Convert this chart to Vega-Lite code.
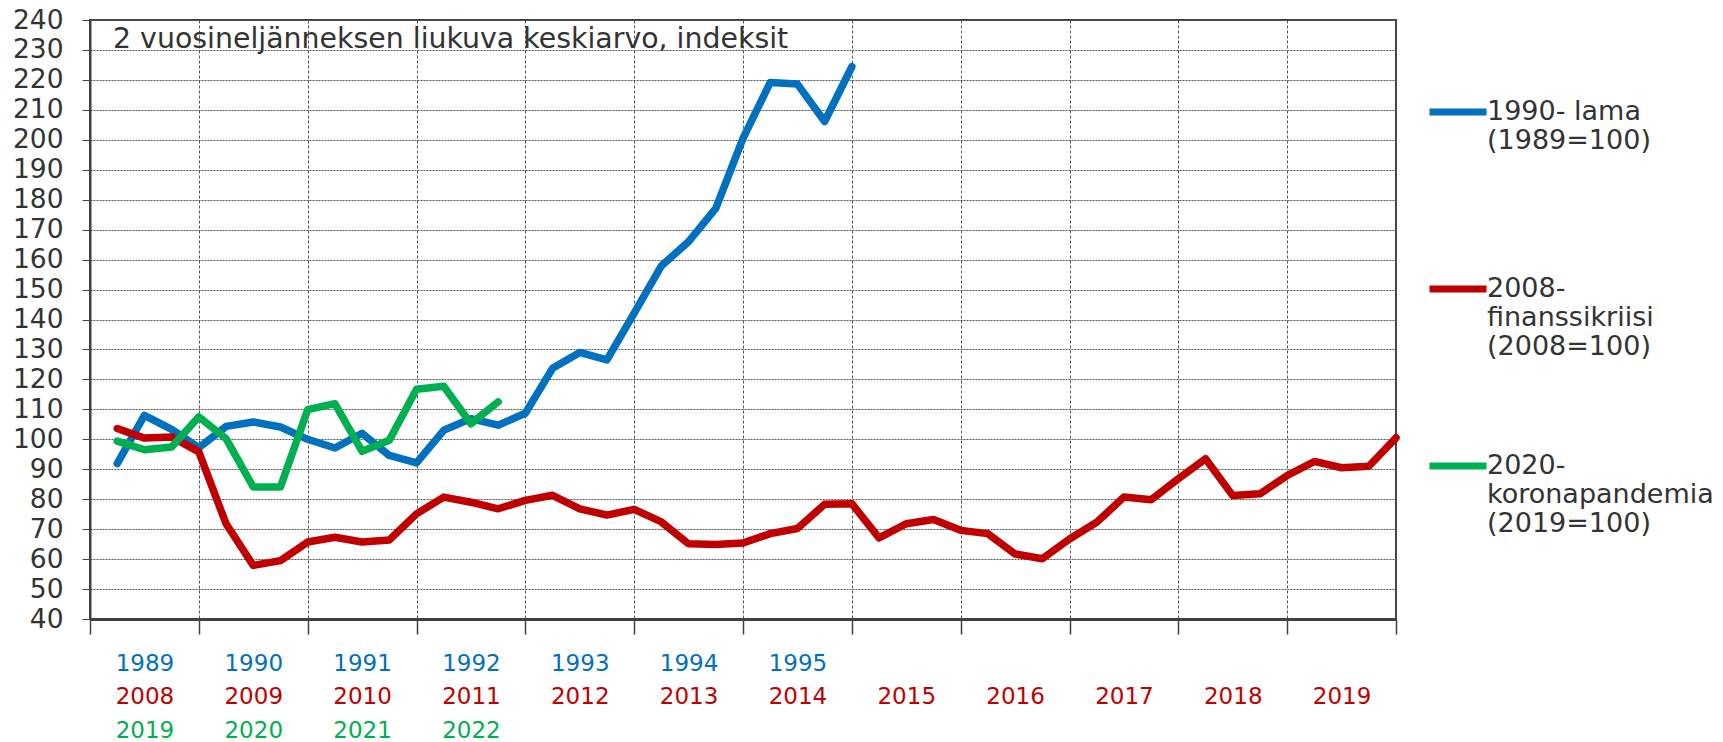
{
  "$schema": "https://vega.github.io/schema/vega-lite/v6.json",
  "width": 1306,
  "height": 599,
  "autosize": {"type": "none"},
  "padding": {"left": 90, "top": 20, "right": 327, "bottom": 123},
  "background": "white",
  "title": {"text": "2 vuosineljänneksen liukuva keskiarvo, indeksit", "anchor": "start", "frame": "group", "orient": "top", "offset": -69, "dx": 23, "baseline": "alphabetic", "font": "DejaVu Sans", "fontSize": 28.4, "fontWeight": "normal", "color": "#333333"},
  "config": {
    "view": {"stroke": "#404040", "strokeWidth": 2},
    "font": "DejaVu Sans",
    "axis": {"labelFont": "DejaVu Sans", "titleFont": "DejaVu Sans"}
  },
  "data": {"values": [
    {"s": "1990- lama|(1989=100)", "t": 1, "v": 91.9},
    {"s": "1990- lama|(1989=100)", "t": 2, "v": 108.0},
    {"s": "1990- lama|(1989=100)", "t": 3, "v": 103.3},
    {"s": "1990- lama|(1989=100)", "t": 4, "v": 97.2},
    {"s": "1990- lama|(1989=100)", "t": 5, "v": 104.3},
    {"s": "1990- lama|(1989=100)", "t": 6, "v": 105.8},
    {"s": "1990- lama|(1989=100)", "t": 7, "v": 104.1},
    {"s": "1990- lama|(1989=100)", "t": 8, "v": 100.0},
    {"s": "1990- lama|(1989=100)", "t": 9, "v": 97.1},
    {"s": "1990- lama|(1989=100)", "t": 10, "v": 102.0},
    {"s": "1990- lama|(1989=100)", "t": 11, "v": 94.6},
    {"s": "1990- lama|(1989=100)", "t": 12, "v": 92.1},
    {"s": "1990- lama|(1989=100)", "t": 13, "v": 103.0},
    {"s": "1990- lama|(1989=100)", "t": 14, "v": 106.9},
    {"s": "1990- lama|(1989=100)", "t": 15, "v": 104.7},
    {"s": "1990- lama|(1989=100)", "t": 16, "v": 108.7},
    {"s": "1990- lama|(1989=100)", "t": 17, "v": 123.7},
    {"s": "1990- lama|(1989=100)", "t": 18, "v": 129.0},
    {"s": "1990- lama|(1989=100)", "t": 19, "v": 126.5},
    {"s": "1990- lama|(1989=100)", "t": 20, "v": 142.1},
    {"s": "1990- lama|(1989=100)", "t": 21, "v": 157.9},
    {"s": "1990- lama|(1989=100)", "t": 22, "v": 166.0},
    {"s": "1990- lama|(1989=100)", "t": 23, "v": 177.1},
    {"s": "1990- lama|(1989=100)", "t": 24, "v": 200.5},
    {"s": "1990- lama|(1989=100)", "t": 25, "v": 219.1},
    {"s": "1990- lama|(1989=100)", "t": 26, "v": 218.6},
    {"s": "1990- lama|(1989=100)", "t": 27, "v": 206.1},
    {"s": "1990- lama|(1989=100)", "t": 28, "v": 224.4},
    {"s": "2008-|finanssikriisi|(2008=100)", "t": 1, "v": 103.6},
    {"s": "2008-|finanssikriisi|(2008=100)", "t": 2, "v": 100.4},
    {"s": "2008-|finanssikriisi|(2008=100)", "t": 3, "v": 100.8},
    {"s": "2008-|finanssikriisi|(2008=100)", "t": 4, "v": 95.8},
    {"s": "2008-|finanssikriisi|(2008=100)", "t": 5, "v": 71.8},
    {"s": "2008-|finanssikriisi|(2008=100)", "t": 6, "v": 57.9},
    {"s": "2008-|finanssikriisi|(2008=100)", "t": 7, "v": 59.5},
    {"s": "2008-|finanssikriisi|(2008=100)", "t": 8, "v": 65.7},
    {"s": "2008-|finanssikriisi|(2008=100)", "t": 9, "v": 67.3},
    {"s": "2008-|finanssikriisi|(2008=100)", "t": 10, "v": 65.7},
    {"s": "2008-|finanssikriisi|(2008=100)", "t": 11, "v": 66.4},
    {"s": "2008-|finanssikriisi|(2008=100)", "t": 12, "v": 75.1},
    {"s": "2008-|finanssikriisi|(2008=100)", "t": 13, "v": 80.7},
    {"s": "2008-|finanssikriisi|(2008=100)", "t": 14, "v": 79.0},
    {"s": "2008-|finanssikriisi|(2008=100)", "t": 15, "v": 76.8},
    {"s": "2008-|finanssikriisi|(2008=100)", "t": 16, "v": 79.6},
    {"s": "2008-|finanssikriisi|(2008=100)", "t": 17, "v": 81.3},
    {"s": "2008-|finanssikriisi|(2008=100)", "t": 18, "v": 76.8},
    {"s": "2008-|finanssikriisi|(2008=100)", "t": 19, "v": 74.7},
    {"s": "2008-|finanssikriisi|(2008=100)", "t": 20, "v": 76.6},
    {"s": "2008-|finanssikriisi|(2008=100)", "t": 21, "v": 72.4},
    {"s": "2008-|finanssikriisi|(2008=100)", "t": 22, "v": 65.1},
    {"s": "2008-|finanssikriisi|(2008=100)", "t": 23, "v": 64.9},
    {"s": "2008-|finanssikriisi|(2008=100)", "t": 24, "v": 65.4},
    {"s": "2008-|finanssikriisi|(2008=100)", "t": 25, "v": 68.5},
    {"s": "2008-|finanssikriisi|(2008=100)", "t": 26, "v": 70.2},
    {"s": "2008-|finanssikriisi|(2008=100)", "t": 27, "v": 78.3},
    {"s": "2008-|finanssikriisi|(2008=100)", "t": 28, "v": 78.5},
    {"s": "2008-|finanssikriisi|(2008=100)", "t": 29, "v": 67.1},
    {"s": "2008-|finanssikriisi|(2008=100)", "t": 30, "v": 71.8},
    {"s": "2008-|finanssikriisi|(2008=100)", "t": 31, "v": 73.2},
    {"s": "2008-|finanssikriisi|(2008=100)", "t": 32, "v": 69.6},
    {"s": "2008-|finanssikriisi|(2008=100)", "t": 33, "v": 68.5},
    {"s": "2008-|finanssikriisi|(2008=100)", "t": 34, "v": 61.7},
    {"s": "2008-|finanssikriisi|(2008=100)", "t": 35, "v": 60.1},
    {"s": "2008-|finanssikriisi|(2008=100)", "t": 36, "v": 66.7},
    {"s": "2008-|finanssikriisi|(2008=100)", "t": 37, "v": 72.3},
    {"s": "2008-|finanssikriisi|(2008=100)", "t": 38, "v": 80.7},
    {"s": "2008-|finanssikriisi|(2008=100)", "t": 39, "v": 79.8},
    {"s": "2008-|finanssikriisi|(2008=100)", "t": 40, "v": 86.8},
    {"s": "2008-|finanssikriisi|(2008=100)", "t": 41, "v": 93.5},
    {"s": "2008-|finanssikriisi|(2008=100)", "t": 42, "v": 81.2},
    {"s": "2008-|finanssikriisi|(2008=100)", "t": 43, "v": 81.8},
    {"s": "2008-|finanssikriisi|(2008=100)", "t": 44, "v": 87.9},
    {"s": "2008-|finanssikriisi|(2008=100)", "t": 45, "v": 92.6},
    {"s": "2008-|finanssikriisi|(2008=100)", "t": 46, "v": 90.5},
    {"s": "2008-|finanssikriisi|(2008=100)", "t": 47, "v": 91.0},
    {"s": "2008-|finanssikriisi|(2008=100)", "t": 48, "v": 100.5},
    {"s": "2020-|koronapandemia|(2019=100)", "t": 1, "v": 99.4},
    {"s": "2020-|koronapandemia|(2019=100)", "t": 2, "v": 96.5},
    {"s": "2020-|koronapandemia|(2019=100)", "t": 3, "v": 97.4},
    {"s": "2020-|koronapandemia|(2019=100)", "t": 4, "v": 107.5},
    {"s": "2020-|koronapandemia|(2019=100)", "t": 5, "v": 100.2},
    {"s": "2020-|koronapandemia|(2019=100)", "t": 6, "v": 84.1},
    {"s": "2020-|koronapandemia|(2019=100)", "t": 7, "v": 84.1},
    {"s": "2020-|koronapandemia|(2019=100)", "t": 8, "v": 109.9},
    {"s": "2020-|koronapandemia|(2019=100)", "t": 9, "v": 111.9},
    {"s": "2020-|koronapandemia|(2019=100)", "t": 10, "v": 96.0},
    {"s": "2020-|koronapandemia|(2019=100)", "t": 11, "v": 99.7},
    {"s": "2020-|koronapandemia|(2019=100)", "t": 12, "v": 116.7},
    {"s": "2020-|koronapandemia|(2019=100)", "t": 13, "v": 117.7},
    {"s": "2020-|koronapandemia|(2019=100)", "t": 14, "v": 105.2},
    {"s": "2020-|koronapandemia|(2019=100)", "t": 15, "v": 112.5}
  ]},
  "encoding": {
    "y": {"field": "v", "type": "quantitative", "scale": {"domain": [40, 240], "nice": false, "zero": false},
      "axis": {"title": null, "values": [40,50,60,70,80,90,100,110,120,130,140,150,160,170,180,190,200,210,220,230,240],
        "labelOverlap": false, "labelBound": false, "labelFlush": false,
        "labelFontSize": 26.5, "labelColor": "#333333", "labelPadding": 19, "tickSize": 8, "tickColor": "#404040",
        "domainColor": "#404040", "domainWidth": 2, "grid": true, "gridColor": "#555555", "gridDash": [2, 1], "gridWidth": 1}},
    "color": {"field": "s", "type": "nominal",
      "scale": {"domain": ["1990- lama|(1989=100)", "2008-|finanssikriisi|(2008=100)", "2020-|koronapandemia|(2019=100)"], "range": ["#0070C0", "#C00000", "#00B050"]},
      "legend": {"title": null, "orient": "none", "legendX": 1336, "legendY": 60, "padding": 0,
        "labelExpr": "length(split(datum.label, '|')) < 3 ? split(datum.label + '|', '|') : split(datum.label, '|')",
        "labelFontSize": 27, "labelLineHeight": 34, "labelColor": "#333333", "labelFont": "DejaVu Sans",
        "labelBaseline": "middle", "labelLimit": 400, "labelOffset": -3,
        "symbolType": "stroke", "symbolSize": 3249, "symbolStrokeWidth": 7, "rowPadding": 74}}
  },
  "layer": [
    {
      "transform": [{"filter": "datum.s == '1990- lama|(1989=100)'"}],
      "mark": {"type": "line", "strokeWidth": 7.5, "strokeCap": "round", "strokeJoin": "round"},
      "encoding": {
        "x": {"field": "t", "type": "quantitative", "scale": {"domain": [0, 48], "nice": false, "zero": false},
          "axis": {"orient": "bottom", "title": null, "values": [0,4,8,12,16,20,24,28,32,36,40,44,48],
            "labelExpr": "datum.value < 28 ? '' + (1989 + datum.value / 4) : ''",
            "labelOffset": 54.42, "labelFlush": false, "labelOverlap": false, "labelBound": false,
            "labelFontSize": 23, "labelColor": "#0070C0", "labelBaseline": "middle", "labelPadding": 29,
            "ticks": true, "tickSize": 15, "tickColor": "#404040", "tickWidth": 1.5,
            "domain": true, "domainColor": "#404040", "domainWidth": 3,
            "grid": true, "gridColor": "#555555", "gridDash": [3, 2], "gridWidth": 1}}
      }
    },
    {
      "transform": [{"filter": "datum.s == '2008-|finanssikriisi|(2008=100)'"}],
      "mark": {"type": "line", "strokeWidth": 7.5, "strokeCap": "round", "strokeJoin": "round"},
      "encoding": {
        "x": {"field": "t", "type": "quantitative", "scale": {"domain": [0, 48], "nice": false, "zero": false},
          "axis": {"orient": "bottom", "title": null, "values": [0,4,8,12,16,20,24,28,32,36,40,44],
            "labelExpr": "'' + (2008 + datum.value / 4)",
            "labelOffset": 54.42, "labelFlush": false, "labelOverlap": false, "labelBound": false,
            "labelFontSize": 23, "labelColor": "#C00000", "labelBaseline": "middle", "labelPadding": 77,
            "ticks": false, "domain": false, "grid": false}}
      }
    },
    {
      "transform": [{"filter": "datum.s == '2020-|koronapandemia|(2019=100)'"}],
      "mark": {"type": "line", "strokeWidth": 7.5, "strokeCap": "round", "strokeJoin": "round"},
      "encoding": {
        "x": {"field": "t", "type": "quantitative", "scale": {"domain": [0, 48], "nice": false, "zero": false},
          "axis": {"orient": "bottom", "title": null, "values": [0,4,8,12],
            "labelExpr": "'' + (2019 + datum.value / 4)",
            "labelOffset": 54.42, "labelFlush": false, "labelOverlap": false, "labelBound": false,
            "labelFontSize": 23, "labelColor": "#00B050", "labelBaseline": "middle", "labelPadding": 111,
            "ticks": false, "domain": false, "grid": false}}
      }
    }
  ],
  "resolve": {"axis": {"x": "independent"}}
}
